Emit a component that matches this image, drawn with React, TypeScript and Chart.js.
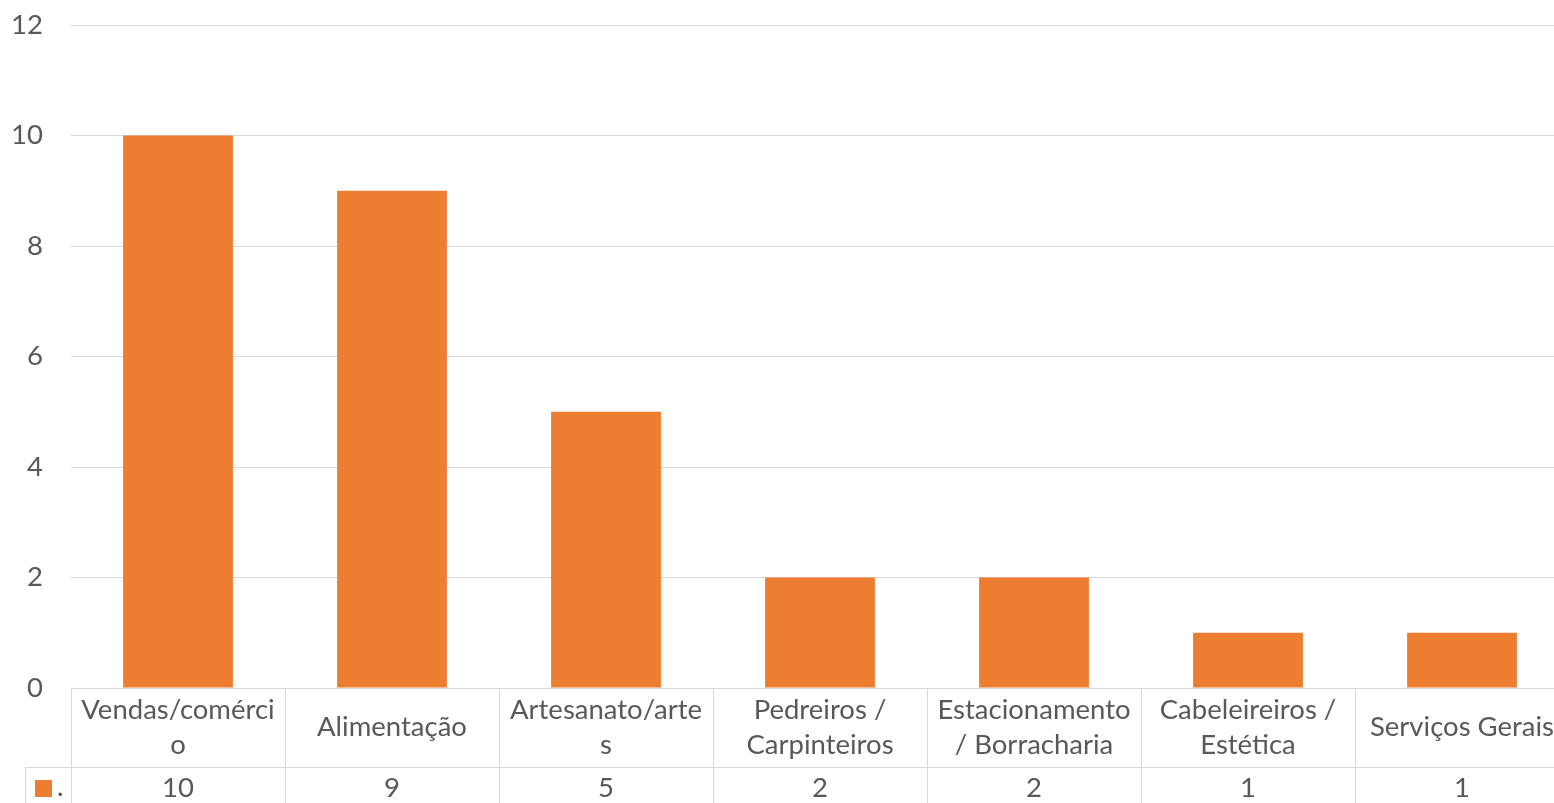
import React, { useEffect, useRef } from "react";
import { Chart, registerables } from "chart.js";

Chart.register(...registerables);

const categories: string[][] = [
  ["Vendas/comérci", "o"],
  ["Alimentação"],
  ["Artesanato/arte", "s"],
  ["Pedreiros /", "Carpinteiros"],
  ["Estacionamento", "/ Borracharia"],
  ["Cabeleireiros /", "Estética"],
  ["Serviços Gerais"],
];
const values: number[] = [10, 9, 5, 2, 2, 1, 1];
const seriesName = ".";
const yMin = 0;
const yMax = 12;
const yStep = 2;

const FONT = "Lato, 'Open Sans', sans-serif";
const FONT_SIZE = 27.5;
const TEXT = "#595959";
const GRID = "#d9d9d9";
const BAR = "#ED7D31";

const W = 1600;
const H = 803;

const tablePlugin = {
  id: "dataTable",
  afterDraw(chart: any) {
    const { ctx, chartArea, scales } = chart;
    const xs = scales.x;
    const n = categories.length;
    const left = chartArea.left;
    const right = chartArea.right;
    const top = chartArea.bottom;
    const row1 = 79;
    const row2 = 42;
    const mid = top + row1;
    const bottom = mid + row2;
    const keyLeft = 25;
    const line = (x1: number, y1: number, x2: number, y2: number) => {
      ctx.beginPath();
      ctx.moveTo(x1, y1);
      ctx.lineTo(x2, y2);
      ctx.stroke();
    };
    ctx.save();
    ctx.strokeStyle = GRID;
    ctx.lineWidth = 1;
    for (let i = 0; i <= n; i++) {
      const xx = Math.round(left + ((right - left) * i) / n) + 0.5;
      line(xx, top, xx, bottom);
    }
    line(keyLeft, mid + 0.5, right, mid + 0.5);
    line(keyLeft + 0.5, mid, keyLeft + 0.5, bottom);
    line(keyLeft, bottom + 0.5, right, bottom + 0.5);

    ctx.fillStyle = TEXT;
    ctx.font = `${FONT_SIZE}px ${FONT}`;
    ctx.textAlign = "center";
    ctx.textBaseline = "middle";
    const lh = 35;
    categories.forEach((lines, i) => {
      const cx = xs.getPixelForValue(i);
      const cy = top + row1 / 2;
      const start = cy - ((lines.length - 1) * lh) / 2;
      lines.forEach((t, j) => ctx.fillText(t, cx, start + j * lh));
      ctx.fillText(String(values[i]), cx, mid + 21);
    });

    ctx.fillStyle = BAR;
    ctx.fillRect(35, mid + 13, 17, 17);
    ctx.fillStyle = TEXT;
    ctx.textAlign = "left";
    ctx.fillText(seriesName, 57, mid + 20);
    ctx.restore();
  },
};

export default function App() {
  const ref = useRef<HTMLCanvasElement | null>(null);
  useEffect(() => {
    if (!ref.current) return;
    const chart = new Chart(ref.current, {
      type: "bar",
      data: {
        labels: categories.map((c) => c.join(" ")),
        datasets: [
          {
            label: seriesName,
            data: values,
            backgroundColor: BAR,
            borderWidth: 0,
            categoryPercentage: 1,
            barPercentage: 0.513,
          },
        ],
      },
      options: {
        responsive: false,
        animation: false,
        layout: { padding: { top: 25, bottom: 115, left: 0, right: W - 1569 } },
        plugins: { legend: { display: false }, tooltip: { enabled: false } },
        scales: {
          x: { display: false },
          y: {
            min: yMin,
            max: yMax,
            ticks: {
              stepSize: yStep,
              padding: 0,
              color: TEXT,
              font: { family: FONT, size: FONT_SIZE },
            },
            grid: {
              color: GRID,
              drawTicks: true,
              tickLength: 28,
              tickColor: "rgba(0,0,0,0)",
              lineWidth: 1,
            },
            border: { display: false },
            afterFit: (s: any) => {
              s.width = 71;
            },
          },
        },
      },
      plugins: [tablePlugin],
    });
    return () => chart.destroy();
  }, []);
  return (
    <div
      style={{
        position: "fixed",
        left: 0,
        top: 0,
        width: 1554,
        height: 803,
        overflow: "hidden",
        background: "#fff",
      }}
    >
      <canvas ref={ref} width={W} height={H} style={{ display: "block", width: W, height: H }} />
    </div>
  );
}
